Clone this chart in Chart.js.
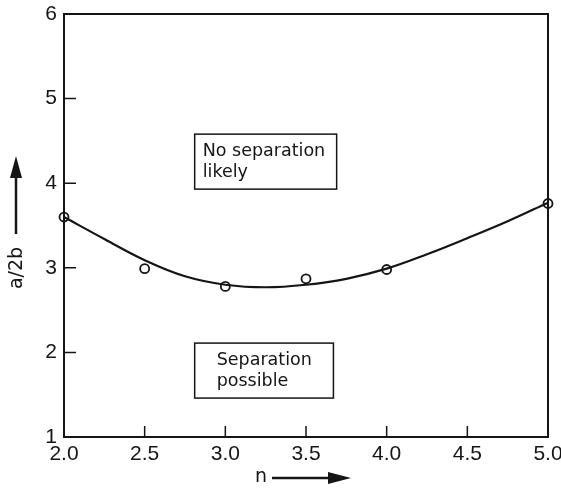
<!DOCTYPE html>
<html lang="en">
<head>
    <meta charset="UTF-8">
    <title>a/2b vs n</title>
    <script src="https://cdn.jsdelivr.net/npm/chart.js"></script>
    <style>
        html, body { margin: 0; padding: 0; background: #fff; }
        #wrap { width: 561px; height: 489px; }
    </style>
</head>
<body>
    <div id="wrap"><canvas id="myChart" width="561" height="489"></canvas></div>
    <script>
        // measured points (open circles)
        const nValues = [2.0, 2.5, 3.0, 3.5, 4.0, 5.0];
        const ratioValues = [3.60, 2.99, 2.78, 2.87, 2.98, 3.76];

        // fitted curve
        const curveN = [2.0, 2.25, 2.5, 2.75, 3.0, 3.25, 3.5, 3.75, 4.0, 4.25, 4.5, 4.75, 5.0];
        const curveRatio = [3.60, 3.34, 3.09, 2.90, 2.80, 2.77, 2.80, 2.87, 2.99, 3.16, 3.35, 3.55, 3.77];

        const xTitle = 'n';
        const yTitle = 'a/2b';
        const regionLabels = [
            ['No separation', 'likely'],
            ['Separation', 'possible']
        ];

        const ink = '#151515';
        const tickFont = '"Liberation Sans Narrow", "Liberation Sans", sans-serif';
        const textFont = '"DejaVu Sans", sans-serif';

        // frame, inward ticks, region boxes, axis titles with arrows
        const decorations = {
            id: 'decorations',
            afterDatasetsDraw(chart) {
                const { ctx, chartArea: a, scales: { x, y } } = chart;
                ctx.save();
                ctx.strokeStyle = ink;
                ctx.fillStyle = ink;

                // frame
                ctx.lineWidth = 2;
                ctx.strokeRect(a.left, a.top, a.right - a.left, a.bottom - a.top);

                // inward tick marks
                ctx.lineWidth = 1.5;
                ctx.beginPath();
                y.ticks.forEach(t => {
                    const py = y.getPixelForValue(t.value);
                    ctx.moveTo(a.left, py);
                    ctx.lineTo(a.left + 12, py);
                });
                x.ticks.forEach(t => {
                    const px = x.getPixelForValue(t.value);
                    ctx.moveTo(px, a.bottom);
                    ctx.lineTo(px, a.bottom - 11);
                });
                ctx.stroke();

                // region boxes
                const boxes = [
                    { x0: 2.81, x1: 3.69, y0: 4.58, y1: 3.93, tx: 8 },
                    { x0: 2.81, x1: 3.67, y0: 2.11, y1: 1.46, tx: 22 }
                ];
                ctx.lineWidth = 1.5;
                ctx.font = '17.5px ' + textFont;
                ctx.textBaseline = 'middle';
                ctx.textAlign = 'left';
                boxes.forEach((b, i) => {
                    const l = x.getPixelForValue(b.x0), r = x.getPixelForValue(b.x1);
                    const t = y.getPixelForValue(b.y0), btm = y.getPixelForValue(b.y1);
                    ctx.fillStyle = '#fff';
                    ctx.fillRect(l, t, r - l, btm - t);
                    ctx.strokeRect(l, t, r - l, btm - t);
                    ctx.fillStyle = ink;
                    const mid = (t + btm) / 2;
                    ctx.fillText(regionLabels[i][0], l + b.tx, mid - 10);
                    ctx.fillText(regionLabels[i][1], l + b.tx, mid + 11);
                });

                // x title + arrow
                ctx.font = '19px ' + textFont;
                ctx.textAlign = 'center';
                ctx.fillText(xTitle, 261, 477);
                ctx.lineWidth = 2.5;
                ctx.beginPath();
                ctx.moveTo(272, 478);
                ctx.lineTo(336, 478);
                ctx.stroke();
                ctx.beginPath();
                ctx.moveTo(351, 478);
                ctx.lineTo(328, 472);
                ctx.lineTo(328, 484);
                ctx.closePath();
                ctx.fill();

                // y title + arrow
                ctx.save();
                ctx.translate(17, 268);
                ctx.rotate(-Math.PI / 2);
                ctx.fillText(yTitle, 0, 0);
                ctx.restore();
                ctx.beginPath();
                ctx.moveTo(16, 234);
                ctx.lineTo(16, 172);
                ctx.stroke();
                ctx.beginPath();
                ctx.moveTo(16, 156);
                ctx.lineTo(10, 178);
                ctx.lineTo(22, 178);
                ctx.closePath();
                ctx.fill();

                ctx.restore();
            }
        };

        document.addEventListener('DOMContentLoaded', () => {
            const ctx = document.getElementById('myChart').getContext('2d');

            new Chart(ctx, {
                type: 'scatter',
                data: {
                    datasets: [
                        {
                            label: 'fit',
                            data: curveN.map((n, i) => ({ x: n, y: curveRatio[i] })),
                            showLine: true,
                            tension: 0.4,
                            borderColor: ink,
                            borderWidth: 2.2,
                            pointRadius: 0,
                            fill: false
                        },
                        {
                            label: 'measured',
                            data: nValues.map((n, i) => ({ x: n, y: ratioValues[i] })),
                            pointRadius: 4.5,
                            pointBackgroundColor: '#fff',
                            pointBorderColor: ink,
                            pointBorderWidth: 1.8
                        }
                    ]
                },
                options: {
                    responsive: false,
                    animation: false,
                    clip: false,
                    layout: { padding: { top: 14, right: 13, left: 0, bottom: 0 } },
                    plugins: {
                        legend: { display: false },
                        tooltip: { enabled: false }
                    },
                    scales: {
                        x: {
                            type: 'linear',
                            min: 2,
                            max: 5,
                            grid: { display: false, drawTicks: false },
                            border: { display: false },
                            ticks: {
                                stepSize: 0.5,
                                padding: 5,
                                color: ink,
                                font: { family: tickFont, size: 21 },
                                callback: v => v.toFixed(1)
                            },
                            afterFit: s => {
                                s.height = 52;
                                s.paddingLeft = 0;
                                s.paddingRight = 0;
                            }
                        },
                        y: {
                            min: 1,
                            max: 6,
                            grid: { display: false, drawTicks: false },
                            border: { display: false },
                            ticks: {
                                stepSize: 1,
                                padding: 7,
                                color: ink,
                                font: { family: tickFont, size: 21 }
                            },
                            afterFit: s => {
                                s.width = 64;
                                s.paddingTop = 0;
                                s.paddingBottom = 0;
                            }
                        }
                    }
                },
                plugins: [decorations]
            });
        });
    </script>
</body>
</html>
